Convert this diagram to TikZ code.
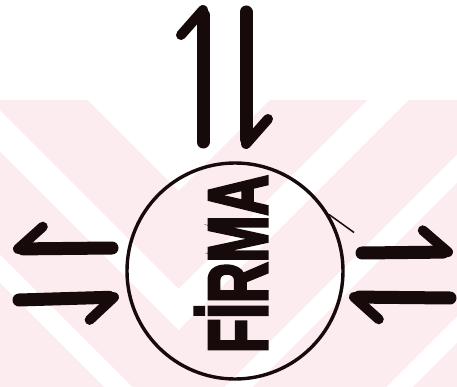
\documentclass[tikz,border=0pt]{standalone}
\usepackage{fontspec}
\setmainfont{Liberation Sans}
\newfontfamily\heavyfont{Liberation Sans Bold}[FakeBold=4]
\usepackage{graphicx}
\usetikzlibrary{arrows.meta}

\definecolor{wmpink}{RGB}{253,236,239}
\definecolor{ink}{RGB}{22,10,10}

\tikzset{
  flowleft/.style={draw=ink,line width=13pt,line cap=round,
    -{Straight Barb[harpoon,round,length=25pt,width=44pt,line width=10pt]}},
  flowright/.style={draw=ink,line width=13pt,line cap=round,
    -{Straight Barb[harpoon,swap,round,length=25pt,width=44pt,line width=10pt]}}
}

\begin{document}
\begin{tikzpicture}[x=1pt,y=-1pt]
\useasboundingbox (0,0) rectangle (457,387);
% faint watermark
\begin{scope}
\clip (0,100) rectangle (457,387);
\fill[wmpink] (0,100) rectangle (457,387);
\foreach \a/\b in {-400/191,289/330,433/461,595/621,760/785}
  {\fill[white] (-121.5,\a-300) -- (178.5,\a) -- (478.5,\a-300)
     -- (478.5,\b-300) -- (178.5,\b) -- (-121.5,\b-300) -- cycle;}
\end{scope}

% firm
\node[circle,draw=ink,line width=3.4pt,minimum size=216pt,inner sep=0pt] (firma) at (235,271) {};
\node[rotate=90,anchor=base,inner sep=0pt,text=ink,
  font=\heavyfont\fontsize{84}{84}\selectfont] (firmalabel) at (267,264) {\scalebox{0.67}[1]{FİRMA}};
\draw[ink,line width=1.5pt] (firma.31) -- ++(25,18);

% arrow ends
\coordinate (upS) at (203,142);
\coordinate (upE) at (203,5);
\coordinate (dnS) at (246,12);
\coordinate (dnE) at (246,149);
\coordinate (lwS) at (112,248);
\coordinate (lwE) at (13,249);
\coordinate (leS) at (19,300);
\coordinate (leE) at (119,297);
\coordinate (rwS) at (362,253);
\coordinate (rwE) at (453,252);
\coordinate (reS) at (450,298);
\coordinate (reE) at (349,297);

\draw[flowleft] (upS) -- (upE);
\draw[flowleft] (dnS) -- (dnE);
\draw[flowright] (lwS) -- (lwE);
\draw[flowright] (leS) -- (leE);
\draw[flowleft] (rwS) -- (rwE);
\draw[flowleft] (reS) -- (reE);
\end{tikzpicture}
\end{document}
